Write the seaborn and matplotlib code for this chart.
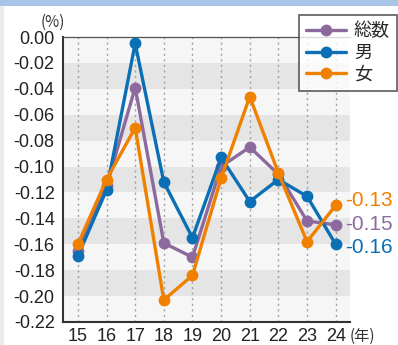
import matplotlib
matplotlib.use("Agg")
import matplotlib.pyplot as plt
import seaborn as sns
import pandas as pd
from matplotlib.patches import Rectangle
from matplotlib.lines import Line2D

years = [15, 16, 17, 18, 19, 20, 21, 22, 23, 24]
total = [-0.165, -0.115, -0.039, -0.159, -0.170, -0.100, -0.085, -0.106, -0.142, -0.145]
male = [-0.169, -0.118, -0.005, -0.112, -0.155, -0.093, -0.127, -0.110, -0.123, -0.160]
female = [-0.160, -0.110, -0.070, -0.203, -0.184, -0.109, -0.046, -0.105, -0.158, -0.130]
series_names = ["総数", "男", "女"]
end_labels = ["-0.15", "-0.16", "-0.13"]
y_ticks = [0.00, -0.02, -0.04, -0.06, -0.08, -0.10, -0.12, -0.14, -0.16, -0.18, -0.20, -0.22]

colors = {"総数": "#8c6a9e", "男": "#0a6fb4", "女": "#f08000"}

sns.set_theme(style="white")
plt.rcParams["font.family"] = ["Liberation Sans", "Noto Sans CJK JP", "DejaVu Sans"]

df = pd.DataFrame({"year": years * 3,
                   "value": total + male + female,
                   "series": [s for s in series_names for _ in years]})

fig = plt.figure(figsize=(3.98, 3.45), dpi=100)
fig.patch.set_facecolor("white")
# header strip and left edge strip
fig.add_artist(Rectangle((0, 1 - 6 / 345), 1, 6 / 345, transform=fig.transFigure,
                         facecolor="#a8c4e6", edgecolor="none"))
fig.add_artist(Rectangle((0, 0), 4 / 398, 1 - 6 / 345, transform=fig.transFigure,
                         facecolor="#ececec", edgecolor="none"))
ax = fig.add_axes([63 / 398, 1 - 322 / 345, (350 - 63) / 398, (322 - 37) / 345])

# alternating background bands
for i in range(11):
    top = -0.02 * i
    ax.axhspan(top - 0.02, top, color="#e5e5e5" if i % 2 else "#f5f6f5", lw=0, zorder=0)
for x in years:
    ax.axvline(x, color="#a0a0a0", lw=1, ls=(0, (1.5, 2.5)), zorder=1)

sns.lineplot(data=df, x="year", y="value", hue="series", hue_order=series_names,
             palette=colors, marker="o", markersize=8.5, markeredgewidth=0,
             linewidth=2.4, ax=ax, legend=False, zorder=3)

ax.set_xlim(14.48, 24.5)
ax.set_ylim(-0.22, 0.0)
ax.set_xticks(years)
ax.set_xticklabels([str(y) for y in years])
ax.set_yticks(y_ticks)
ax.set_yticklabels([f"{t:.2f}" if t != 0 else "0.00" for t in y_ticks])
ax.tick_params(axis="y", labelsize=13, length=4, width=1.2, color="#333333",
               direction="out", pad=2, labelcolor="#222222")
ax.tick_params(axis="x", labelsize=13, length=3, width=1.2, color="#333333",
               direction="in", pad=4, labelcolor="#222222")
ax.set_xlabel("")
ax.set_ylabel("")
ax.spines["right"].set_visible(False)
ax.spines["top"].set_color("#555555")
ax.spines["top"].set_linewidth(0.9)
for s in ["left", "bottom"]:
    ax.spines[s].set_color("#333333")
    ax.spines[s].set_linewidth(1.5)

ax.text(-0.035, 1.02, "(%)", transform=ax.transAxes, fontsize=11, ha="center",
        va="bottom", color="#333333", family=["Noto Sans CJK JP"])
ax.text(1.0, -0.02, "(年)", transform=ax.transAxes, fontsize=11, ha="left",
        va="top", color="#333333", family=["Noto Sans CJK JP"])

# end-of-line value labels
label_y = {"女": -0.126, "総数": -0.1445, "男": -0.1625}
for name, lab in zip(series_names, end_labels):
    ax.text(24.33, label_y[name], lab, color=colors[name],
            fontsize=15, va="center", ha="left", clip_on=False)

# legend
handles = [Line2D([0], [0], color=colors[n], lw=2.4, marker="o", markersize=8.5,
                  markeredgewidth=0) for n in series_names]
leg = fig.legend(handles, series_names, loc="upper right",
                 bbox_to_anchor=(397 / 398, 1 - 15 / 345),
                 frameon=True, fancybox=False, handlelength=2.2,
                 borderpad=0.4, labelspacing=0.2, handletextpad=0.45,
                 borderaxespad=0,
                 prop={"family": ["Noto Sans CJK JP"], "size": 13})
leg.get_frame().set_edgecolor("#333333")
leg.get_frame().set_linewidth(1.2)
leg.get_frame().set_facecolor("white")

fig.savefig("out.png", dpi=100, facecolor="white")
